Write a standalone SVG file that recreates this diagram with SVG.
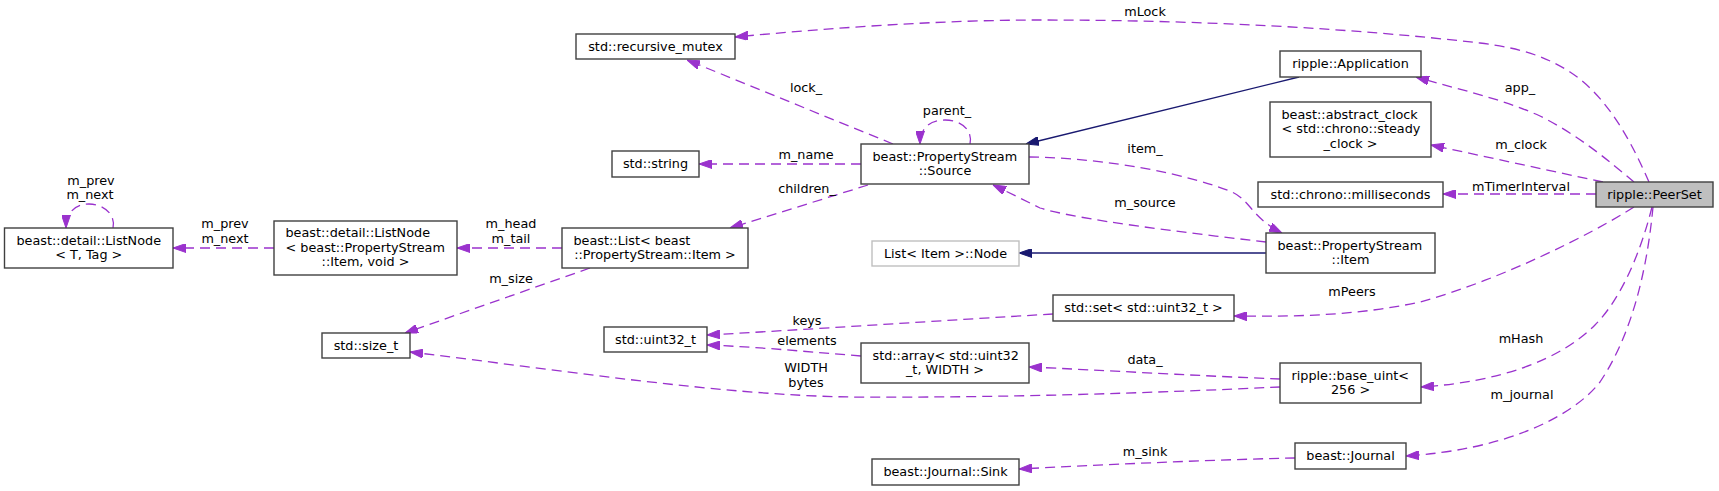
<svg xmlns="http://www.w3.org/2000/svg" width="1719" height="491" viewBox="0 0 1719 491">
<style>
text{font-family:"DejaVu Sans","Liberation Sans",sans-serif;font-size:12.8px;fill:#000}
.c{text-anchor:middle}
.s{text-anchor:start}
.n rect{fill:#fff;stroke:#404040;stroke-width:1.4}
.n rect.hl{fill:#bfbfbf}
.n rect.gr{stroke:#bfbfbf}
.e path{fill:none;stroke-width:1.3}
.d{stroke:#9a32cd;stroke-dasharray:10,6;marker-end:url(#ap)}
.i{stroke:#191970;marker-end:url(#an)}
</style>
<defs>
<marker id="ap" markerUnits="userSpaceOnUse" viewBox="0 0 13 9" refX="13" refY="4.5" markerWidth="13" markerHeight="9" orient="auto"><path d="M0,0L13,4.5L0,9z" fill="#9a32cd" stroke="#9a32cd" stroke-width="1"/></marker>
<marker id="an" markerUnits="userSpaceOnUse" viewBox="0 0 13 9" refX="13" refY="4.5" markerWidth="13" markerHeight="9" orient="auto"><path d="M0,0L13,4.5L0,9z" fill="#191970" stroke="#191970" stroke-width="1"/></marker>
</defs>
<rect width="1719" height="491" fill="#fff"/>
<g id="edges" class="e">
<path class="d" d="M1649,182 C1634,148 1610,98 1570,72 C1545,56 1520,48 1480,43 C1350,28 1200,20 1040,20 C940,20 830,28 735,37"/>
<path class="d" d="M1634,182 C1610,162 1580,136 1540,116 C1500,98 1460,90 1416,77"/>
<path class="d" d="M1603,182 L1431,145"/>
<path class="d" d="M1596,194 L1443,194"/>
<path class="d" d="M1634,207 C1590,235 1500,280 1420,302 C1360,315 1300,317 1234,316"/>
<path class="d" d="M1652,207 C1640,255 1620,300 1595,325 C1560,360 1500,382 1421,387"/>
<path class="d" d="M1653,207 C1648,260 1635,330 1600,382 C1570,420 1500,450 1406,456"/>
<path class="d" d="M1029,157 C1110,158 1190,175 1232,192 C1250,200 1252,218 1282,233"/>
<path class="d" d="M1266,242 C1180,232 1080,220 1040,208 C1030,203 1010,193 993,185"/>
<path class="d" d="M893,144 L687,60"/>
<path class="d" d="M861,164 L699,164"/>
<path class="d" d="M868,185 L730,228"/>
<path class="d" d="M970,144 C973,131 962,120 945,120 C930,120 920,128 920,144"/>
<path class="i" d="M1299,77 L1026,144"/>
<path class="i" d="M1266,253 L1019,253"/>
<path class="d" d="M562,248 L457,248"/>
<path class="d" d="M274,248 L173,248"/>
<path class="d" d="M113,228 C116,215 104,204 89,204 C76,204 66,212 66,228"/>
<path class="d" d="M590,268 L405,333"/>
<path class="d" d="M1053,314 C950,320 800,330 707,335"/>
<path class="d" d="M861,356 C810,352 760,347 707,345"/>
<path class="d" d="M1280,379 C1200,376 1100,370 1029,367"/>
<path class="d" d="M1280,387 C1150,393 1000,398 850,397 C720,395 560,370 410,352"/>
<path class="d" d="M1295,458 C1200,460 1100,465 1019,469"/>
</g>
<g id="edge-labels">
<text class="c" x="91" y="185">m_prev</text>
<text class="c" x="90" y="199">m_next</text>
<text class="c" x="225" y="228">m_prev</text>
<text class="c" x="225" y="243">m_next</text>
<text class="c" x="511" y="228">m_head</text>
<text class="c" x="511" y="243">m_tail</text>
<text class="c" x="511" y="283">m_size</text>
<text class="c" x="806" y="91.5">lock_</text>
<text class="c" x="947" y="115">parent_</text>
<text class="c" x="806" y="159">m_name</text>
<text class="c" x="807" y="192.5">children_</text>
<text class="c" x="807" y="324.5">keys</text>
<text class="c" x="807" y="344.5">elements</text>
<text class="c" x="806" y="372">WIDTH</text>
<text class="c" x="806" y="386.5">bytes</text>
<text class="c" x="1145" y="16">mLock</text>
<text class="c" x="1520" y="91.5">app_</text>
<text class="c" x="1521" y="148.5">m_clock</text>
<text class="c" x="1521" y="190.5">mTimerInterval</text>
<text class="c" x="1145" y="152.5">item_</text>
<text class="c" x="1145" y="206.5">m_source</text>
<text class="c" x="1352" y="296">mPeers</text>
<text class="c" x="1521" y="342.5">mHash</text>
<text class="c" x="1145" y="363.5">data_</text>
<text class="c" x="1522" y="398.5">m_journal</text>
<text class="c" x="1145" y="456">m_sink</text>
</g>
<g id="n-listnode-t" class="n"><rect x="4.5" y="228" width="168.5" height="40"/><text class="s" x="16.5" y="244.5">beast::detail::ListNode</text><text class="c" x="88.75" y="259">&lt; T, Tag &gt;</text></g>
<g id="n-listnode-item" class="n"><rect x="274" y="221" width="183" height="54"/><text class="s" x="285.5" y="237">beast::detail::ListNode</text><text class="s" x="285.5" y="251.5">&lt; beast::PropertyStream</text><text class="c" x="365.5" y="266">::Item, void &gt;</text></g>
<g id="n-size-t" class="n"><rect x="322" y="333" width="88" height="25"/><text class="c" x="366" y="349.5">std::size_t</text></g>
<g id="n-recursive-mutex" class="n"><rect x="576" y="34" width="159" height="25"/><text class="c" x="655.5" y="50.5">std::recursive_mutex</text></g>
<g id="n-string" class="n"><rect x="612" y="151" width="87" height="26"/><text class="c" x="655.5" y="168">std::string</text></g>
<g id="n-list" class="n"><rect x="562" y="228" width="186" height="40"/><text class="s" x="573.5" y="244.5">beast::List&lt; beast</text><text class="c" x="655" y="259">::PropertyStream::Item &gt;</text></g>
<g id="n-source" class="n"><rect x="861" y="144" width="168" height="40"/><text class="s" x="872.5" y="160.5">beast::PropertyStream</text><text class="c" x="945" y="175">::Source</text></g>
<g id="n-uint32" class="n"><rect x="604" y="327" width="103" height="25"/><text class="c" x="655.5" y="343.5">std::uint32_t</text></g>
<g id="n-array" class="n"><rect x="861" y="343" width="168" height="40"/><text class="s" x="872.5" y="359.5">std::array&lt; std::uint32</text><text class="c" x="945" y="374">_t, WIDTH &gt;</text></g>
<g id="n-list-node" class="n"><rect class="gr" x="872" y="241" width="147" height="25"/><text class="c" x="945.5" y="257.5">List&lt; Item &gt;::Node</text></g>
<g id="n-journal-sink" class="n"><rect x="872" y="459" width="147" height="26"/><text class="c" x="945.5" y="476">beast::Journal::Sink</text></g>
<g id="n-application" class="n"><rect x="1280" y="51" width="141" height="26"/><text class="c" x="1350.5" y="68">ripple::Application</text></g>
<g id="n-abstract-clock" class="n"><rect x="1270" y="102" width="161" height="55"/><text class="s" x="1281.5" y="118.5">beast::abstract_clock</text><text class="s" x="1281.5" y="133">&lt; std::chrono::steady</text><text class="c" x="1350.5" y="147.5">_clock &gt;</text></g>
<g id="n-milliseconds" class="n"><rect x="1258" y="182" width="185" height="25"/><text class="c" x="1350.5" y="198.5">std::chrono::milliseconds</text></g>
<g id="n-item" class="n"><rect x="1266" y="233" width="169" height="40"/><text class="s" x="1277.5" y="249.5">beast::PropertyStream</text><text class="c" x="1350.5" y="264">::Item</text></g>
<g id="n-set" class="n"><rect x="1053" y="295" width="181" height="26"/><text class="c" x="1143.5" y="312">std::set&lt; std::uint32_t &gt;</text></g>
<g id="n-base-uint" class="n"><rect x="1280" y="363" width="141" height="40"/><text class="s" x="1291.5" y="379.5">ripple::base_uint&lt;</text><text class="c" x="1350.5" y="394">256 &gt;</text></g>
<g id="n-journal" class="n"><rect x="1295" y="443" width="111" height="26"/><text class="c" x="1350.5" y="460">beast::Journal</text></g>
<g id="n-peerset" class="n"><rect class="hl" x="1596" y="182" width="117" height="25"/><text class="c" x="1654.5" y="198.5">ripple::PeerSet</text></g>
</svg>
